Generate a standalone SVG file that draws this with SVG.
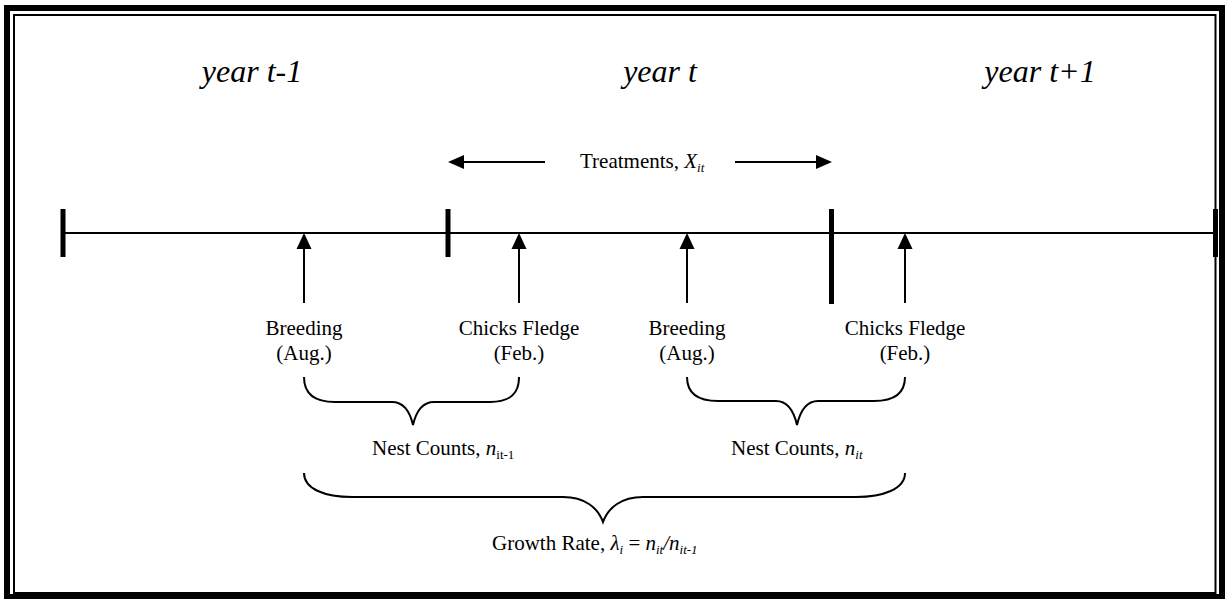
<svg xmlns="http://www.w3.org/2000/svg" width="1225" height="599" viewBox="0 0 1225 599">
<defs>
<style>
.t{font-family:"Liberation Serif","Times New Roman",serif;font-size:21px;fill:#000}
.yr{font-family:"Liberation Serif","Times New Roman",serif;font-size:32px;font-style:italic;fill:#000}
.i{font-style:italic}
.ln{stroke:#000;stroke-width:2;fill:none}
.tick{fill:#000}
.head{fill:#000}
.brace{stroke:#000;stroke-width:2;fill:none}
</style>
</defs>
<rect width="1225" height="599" fill="#fff"/>
<g id="frame">
<rect x="7" y="8" width="1215" height="589" fill="none" stroke="#000" stroke-width="6"/>
<rect x="14" y="15" width="1201.5" height="578" fill="none" stroke="#000" stroke-width="2"/>
</g>
<g id="years">
<text class="yr" x="252" y="82" text-anchor="middle">year t-1</text>
<text class="yr" x="660" y="82" text-anchor="middle">year t</text>
<text class="yr" x="1040" y="82" text-anchor="middle">year t+1</text>
</g>
<g id="treatments">
<text class="t" x="580" y="168">Treatments, <tspan class="i">X</tspan><tspan class="i" font-size="13" dy="4">it</tspan></text>
</g>
<g id="timeline">
<line class="ln" x1="63" y1="233" x2="1215" y2="233" stroke-width="1.6"/>
<rect class="tick" x="60.5" y="209" width="5" height="48"/>
<rect class="tick" x="445.5" y="209" width="5" height="48"/>
<rect class="tick" x="829" y="209" width="5" height="95"/>
<rect class="tick" x="1213" y="209" width="5" height="48"/>
</g>
<g id="breeding1">
<text class="t" x="304" y="335" text-anchor="middle">Breeding</text>
<text class="t" x="304" y="360" text-anchor="middle">(Aug.)</text>
</g>
<g id="fledge1">
<text class="t" x="519" y="335" text-anchor="middle">Chicks Fledge</text>
<text class="t" x="519" y="360" text-anchor="middle">(Feb.)</text>
</g>
<g id="breeding2">
<text class="t" x="687" y="335" text-anchor="middle">Breeding</text>
<text class="t" x="687" y="360" text-anchor="middle">(Aug.)</text>
</g>
<g id="fledge2">
<text class="t" x="905" y="335" text-anchor="middle">Chicks Fledge</text>
<text class="t" x="905" y="360" text-anchor="middle">(Feb.)</text>
</g>
<g id="nest1">
<text class="t" x="372" y="455">Nest Counts, <tspan class="i">n</tspan><tspan font-size="13" dy="4">it-1</tspan></text>
</g>
<g id="nest2">
<text class="t" x="731" y="455">Nest Counts, <tspan class="i">n</tspan><tspan class="i" font-size="13" dy="4">it</tspan></text>
</g>
<g id="growth">
<text class="t" x="492" y="550">Growth Rate, <tspan class="i">λ</tspan><tspan class="i" font-size="13" dy="4">i</tspan><tspan dy="-4"> = </tspan><tspan class="i">n</tspan><tspan class="i" font-size="13" dy="4">it</tspan><tspan class="i" dy="-4">/n</tspan><tspan class="i" font-size="13" dy="4">it-1</tspan></text>
</g>
<g id="connectors">
<line class="ln" x1="463" y1="162" x2="545" y2="162"/>
<polygon class="head" points="448,162 464,155 464,169"/>
<line class="ln" x1="735" y1="162" x2="817" y2="162"/>
<polygon class="head" points="832,162 816,155 816,169"/>
<line class="ln" x1="304" y1="248" x2="304" y2="303"/>
<polygon class="head" points="304,233 296.5,249 311.5,249"/>
<line class="ln" x1="519" y1="248" x2="519" y2="303"/>
<polygon class="head" points="519,233 511.5,249 526.5,249"/>
<line class="ln" x1="687" y1="248" x2="687" y2="303"/>
<polygon class="head" points="687,233 679.5,249 694.5,249"/>
<line class="ln" x1="905" y1="248" x2="905" y2="303"/>
<polygon class="head" points="905,233 897.5,249 912.5,249"/>
<path class="brace" d="M304,377 C304,394 315,402 335,402 L392,402 C404,402 410,412 413,425 C416,412 422,402 434,402 L490,402 C510,402 519,394 519,377"/>
<path class="brace" d="M687,377 C687,394 698,401 718,401 L776,401 C788,401 794,412 797,425 C800,412 806,401 818,401 L874,401 C894,401 905,394 905,377"/>
<path class="brace" d="M304,473 C304,489 325,497 352,497 L563,497 C585,497 598,508 603,522 C608,508 621,497 643,497 L856,497 C883,497 905,489 905,473"/>
</g>
</svg>
